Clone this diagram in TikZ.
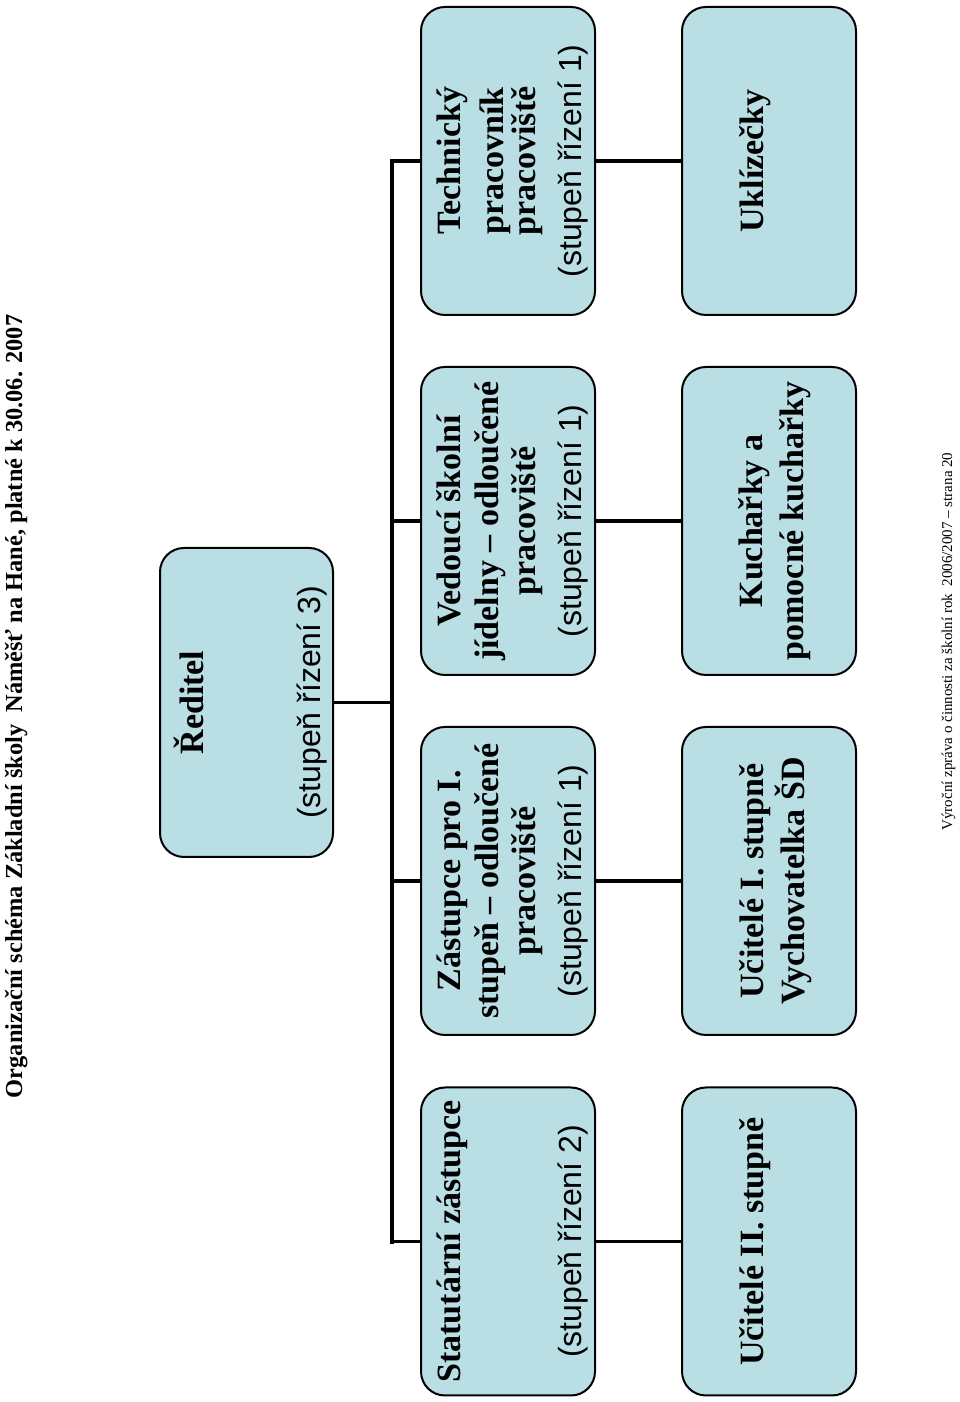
\documentclass[tikz,border=0pt]{standalone}
\usepackage{fontspec}
\setmainfont{Liberation Serif}
\setsansfont{Liberation Sans}
\definecolor{boxblue}{RGB}{185,222,228}
\tikzset{
        orgbox/.style = {draw=black, line width=2pt, fill=boxblue,
            rounded corners=24pt, minimum width=308pt, minimum height=174pt,
            inner sep=0pt},
        headtxt/.style = {anchor=base, inner sep=0pt,
            font=\fontsize{34}{34}\selectfont\bfseries},
        leveltxt/.style = {anchor=base, inner sep=0pt,
            font=\fontsize{32}{32}\selectfont\sffamily},
        titletxt/.style = {anchor=base, inner sep=0pt,
            font=\fontsize{24.4}{24.4}\selectfont\bfseries},
        foottxt/.style = {anchor=base, inner sep=0pt,
            font=\fontsize{15}{15}\selectfont},
        link/.style = {line width=3.5pt},
        bus/.style = {line width=4.5pt, line cap=rect}
    }

\begin{document}
\begin{tikzpicture}[x=1pt, y=1pt, rotate=90, transform shape]
    \useasboundingbox (0,-960) rectangle (1402,0);
    \node[titletxt] (title) at (695.5,-22)
        {Organizační schéma Základní školy\ \ Náměšť na Hané, platné k 30.06. 2007};
    % DIRECTOR
    \node[orgbox, minimum width=309pt, minimum height=173pt] (rd) at (699.5,-246.5) {};
    \node[headtxt] (rd1) at (699.5,-203) {Ředitel};
    \node[leveltxt] (rd2) at (699.5,-320) {(stupeň řízení 3)};
    % FIRST ROW
    \node[orgbox] (stat) at (160.5,-508) {};
    \node[headtxt] (stat1) at (160.5,-460) {Statutární zástupce};
    \node[leveltxt] (stat2) at (160.5,-581) {(stupeň řízení 2)};
    \node[orgbox] (zas) at (521,-508) {};
    \node[headtxt] (zas1) at (521,-460) {Zástupce pro I.};
    \node[headtxt] (zas2) at (521,-498) {stupeň – odloučené};
    \node[headtxt] (zas3) at (521,-535) {pracoviště};
    \node[leveltxt] (zas4) at (521,-581) {(stupeň řízení 1)};
    \node[orgbox] (ved) at (881,-508) {};
    \node[headtxt] (ved1) at (881,-460) {Vedoucí školní};
    \node[headtxt] (ved2) at (881,-498) {jídelny – odloučené};
    \node[headtxt] (ved3) at (881,-535) {pracoviště};
    \node[leveltxt] (ved4) at (881,-581) {(stupeň řízení 1)};
    \node[orgbox] (tech) at (1241,-508) {};
    \node[headtxt] (tech1) at (1241,-460) {Technický};
    \node[headtxt] (tech2) at (1241,-503) {pracovník};
    \node[headtxt] (tech3) at (1241,-535) {pracoviště};
    \node[leveltxt] (tech4) at (1241,-581) {(stupeň řízení 1)};
    % SECOND ROW
    \node[orgbox] (ucII) at (160.5,-769) {};
    \node[headtxt] (ucII1) at (160.5,-763) {Učitelé II. stupně};
    \node[orgbox] (ucI) at (521,-769) {};
    \node[headtxt] (ucI1) at (521,-763) {Učitelé I. stupně};
    \node[headtxt] (ucI2) at (521,-804) {Vychovatelka ŠD};
    \node[orgbox] (kuch) at (881,-769) {};
    \node[headtxt] (kuch1) at (881,-762) {Kuchařky a};
    \node[headtxt] (kuch2) at (881,-803) {pomocné kuchařky};
    \node[orgbox] (ukl) at (1241,-769) {};
    \node[headtxt] (ukl1) at (1241,-763) {Uklízečky};
    % CONNECTORS
    \coordinate (busL) at (160.5,-392);
    \coordinate (busR) at (1241,-392);
    \draw[bus] (busL) -- (busR);
    \draw[link] (rd.south) -- (rd.south |- busL);
    \foreach \rowA/\rowB in {stat/ucII, zas/ucI, ved/kuch, tech/ukl} {
        \draw[link] (\rowA.north |- busL) -- (\rowA.north);
        \draw[link] (\rowA.south) -- (\rowB.north);
    }
    \node[foottxt] (foot) at (760.5,-952)
        {Výroční zpráva o činnosti za školní rok\ \ 2006/2007 – strana 20};
\end{tikzpicture}
\end{document}
